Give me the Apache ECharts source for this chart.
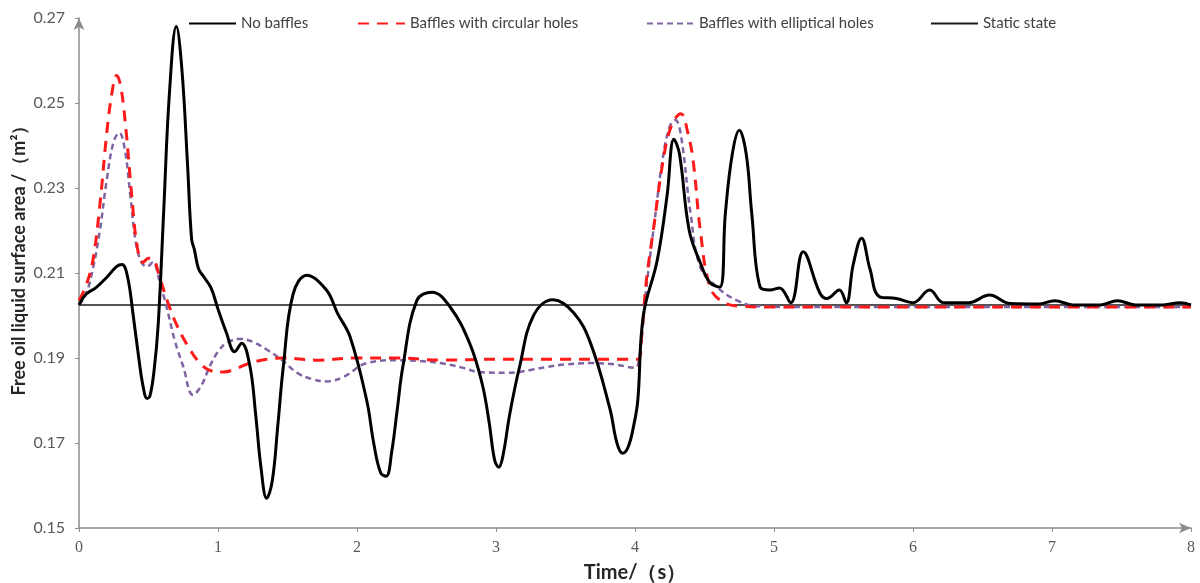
<!DOCTYPE html>
<html>
<head>
<meta charset="utf-8">
<script src="https://cdn.jsdelivr.net/npm/echarts@6/dist/echarts.min.js"></script>
<style>
html, body { margin: 0; padding: 0; background: #fff; }
#chart { width: 1200px; height: 583px; }
</style>
</head>
<body>
<div id="chart"></div>
<script>
var yTicks = [0.15, 0.17, 0.19, 0.21, 0.23, 0.25, 0.27];
var staticLevel = 0.2025;

// No baffles
var tNone = [0, 0.05, 0.12, 0.2, 0.27, 0.31, 0.35, 0.39, 0.43, 0.46, 0.49, 0.51, 0.54, 0.57, 0.61, 0.65, 0.7, 0.74, 0.78, 0.81, 0.83, 0.86, 0.9, 0.95, 1.0, 1.06, 1.12, 1.17, 1.23, 1.27, 1.31, 1.35, 1.39, 1.43, 1.47, 1.54, 1.64, 1.78, 1.86, 1.95, 2.07, 2.12, 2.17, 2.21, 2.25, 2.29, 2.33, 2.43, 2.54, 2.67, 2.81, 2.9, 2.95, 2.99, 3.02, 3.05, 3.1, 3.17, 3.27, 3.41, 3.56, 3.68, 3.82, 3.87, 3.91, 3.95, 3.99, 4.02, 4.06, 4.16, 4.23, 4.28, 4.32, 4.39, 4.47, 4.54, 4.61, 4.65, 4.7, 4.75, 4.8, 4.84, 4.9, 4.97, 5.04, 5.12, 5.21, 5.33, 5.38, 5.47, 5.52, 5.57, 5.63, 5.69, 5.76, 5.88, 6.0, 6.12, 6.22, 6.4, 6.55, 6.7, 6.9, 7.02, 7.15, 7.35, 7.47, 7.6, 7.8, 7.92, 8.0];
var vNone = [0.2025, 0.205, 0.2065, 0.209, 0.2115, 0.212, 0.209, 0.2, 0.19, 0.1835, 0.1805, 0.181, 0.187, 0.198, 0.225, 0.252, 0.268, 0.258, 0.236, 0.218, 0.2155, 0.211, 0.209, 0.2065, 0.2015, 0.196, 0.1915, 0.1935, 0.188, 0.177, 0.164, 0.157, 0.161, 0.174, 0.188, 0.205, 0.2095, 0.206, 0.2005, 0.195, 0.18, 0.17, 0.163, 0.1622, 0.168, 0.178, 0.188, 0.2035, 0.2055, 0.202, 0.1935, 0.184, 0.175, 0.166, 0.1643, 0.167, 0.177, 0.188, 0.2, 0.2037, 0.2006, 0.1935, 0.178, 0.17, 0.1676, 0.169, 0.174, 0.18, 0.2, 0.213, 0.228, 0.2415, 0.238, 0.22, 0.2124, 0.2077, 0.2067, 0.224, 0.238, 0.2436, 0.238, 0.224, 0.2067, 0.206, 0.2065, 0.203, 0.215, 0.2053, 0.204, 0.206, 0.203, 0.212, 0.2182, 0.211, 0.2044, 0.204, 0.203, 0.206, 0.203, 0.203, 0.2048, 0.2028, 0.2027, 0.2035, 0.2025, 0.2025, 0.2035, 0.2025, 0.2025, 0.203, 0.2025];

// Baffles with circular holes
var tCirc = [0, 0.05, 0.1, 0.15, 0.2, 0.24, 0.27, 0.3, 0.34, 0.38, 0.42, 0.46, 0.5, 0.54, 0.58, 0.64, 0.7, 0.78, 0.87, 0.95, 1.04, 1.13, 1.23, 1.35, 1.47, 1.7, 2.0, 2.3, 2.6, 3.0, 3.4, 3.8, 4.02, 4.05, 4.08, 4.14, 4.2, 4.26, 4.33, 4.38, 4.42, 4.47, 4.54, 4.63, 4.75, 5.0, 6.0, 7.0, 8.0];
var vCirc = [0.2035, 0.207, 0.213, 0.226, 0.243, 0.253, 0.2565, 0.254, 0.243, 0.228, 0.216, 0.2125, 0.2135, 0.213, 0.209, 0.203, 0.198, 0.193, 0.1888, 0.187, 0.1867, 0.1875, 0.1888, 0.1897, 0.19, 0.1895, 0.19, 0.19, 0.1895, 0.1897, 0.1897, 0.1897, 0.1897, 0.196, 0.2077, 0.222, 0.236, 0.2445, 0.2475, 0.243, 0.236, 0.22, 0.2067, 0.2032, 0.2022, 0.202, 0.202, 0.202, 0.202];

// Baffles with elliptical holes
var tEllip = [0, 0.05, 0.1, 0.15, 0.2, 0.25, 0.29, 0.33, 0.37, 0.41, 0.45, 0.49, 0.53, 0.58, 0.63, 0.69, 0.75, 0.82, 0.88, 0.94, 1.0, 1.06, 1.16, 1.25, 1.35, 1.46, 1.57, 1.68, 1.78, 1.9, 2.07, 2.29, 2.45, 2.6, 2.75, 2.88, 3.08, 3.25, 3.37, 3.5, 3.68, 3.85, 4.0, 4.03, 4.08, 4.14, 4.2, 4.25, 4.29, 4.33, 4.4, 4.47, 4.59, 4.73, 4.88, 5.2, 6.0, 7.0, 8.0];
var vEllip = [0.2025, 0.205, 0.211, 0.22, 0.232, 0.241, 0.243, 0.239, 0.228, 0.217, 0.2125, 0.2115, 0.2125, 0.208, 0.202, 0.194, 0.188, 0.1813, 0.1835, 0.188, 0.1915, 0.1935, 0.1945, 0.1938, 0.192, 0.1895, 0.1865, 0.185, 0.1845, 0.1855, 0.1888, 0.1895, 0.1893, 0.1888, 0.1878, 0.1867, 0.1865, 0.1872, 0.1879, 0.1885, 0.1888, 0.1885, 0.1877, 0.19, 0.206, 0.222, 0.237, 0.2445, 0.246, 0.2425, 0.224, 0.2114, 0.2067, 0.2036, 0.2022, 0.202, 0.202, 0.202, 0.202];

var tStatic = [0, 8];
var vStatic = [staticLevel, staticLevel];

function pairs(ts, vs) {
	var out = [];
	for (var i = 0; i < ts.length; i++) out.push([ts[i], vs[i]]);
	return out;
}

var axisGray = '#8c8c8c';
var labelGray = '#595959';
var fontSans = 'Lato, "Liberation Sans", sans-serif';

function legendAt(name, left) {
	return {
		data: [name],
		left: left,
		top: 11,
		itemWidth: 47,
		itemHeight: 14,
		itemGap: 0,
		itemStyle: { color: 'rgba(0,0,0,0)', borderWidth: 0, opacity: 0 },
		textStyle: { fontFamily: fontSans, fontSize: 15, color: '#404040' }
	};
}

var chart = echarts.init(document.getElementById('chart'));

var option = {
	animation: false,
	backgroundColor: '#fff',
	grid: { left: 79, right: 9, top: 18, bottom: 55, outerBoundsMode: 'none' },
	legend: [
		legendAt('No baffles', 183),
		legendAt('Baffles with circular holes', 352),
		legendAt('Baffles with elliptical holes', 641),
		legendAt('Static state', 925)
	],
	xAxis: {
		type: 'value',
		min: 0,
		max: 8,
		interval: 1,
		name: 'Time/（s）',
		nameLocation: 'middle',
		nameGap: 35,
		nameTextStyle: { fontFamily: fontSans, fontSize: 20, fontWeight: 'bold', color: '#262626' },
		axisLine: { lineStyle: { color: axisGray, width: 1.5 }, symbol: ['none', 'arrow'], symbolSize: [8, 12] },
		axisTick: { length: 4, lineStyle: { color: axisGray } },
		axisLabel: { margin: 12, fontFamily: '"Liberation Serif", serif', fontSize: 16, color: labelGray },
		splitLine: { show: false }
	},
	yAxis: {
		type: 'value',
		min: 0.15,
		max: 0.27,
		axisLine: { show: true, lineStyle: { color: axisGray, width: 1.5 }, symbol: ['none', 'arrow'], symbolSize: [8, 12] },
		axisTick: { show: true, length: 4, lineStyle: { color: axisGray }, customValues: yTicks },
		axisLabel: {
			margin: 14,
			fontFamily: fontSans,
			fontSize: 16,
			color: labelGray,
			customValues: yTicks,
			formatter: function (v) { return v.toFixed(2); }
		},
		splitLine: { show: false }
	},
	graphic: [{
		type: 'text',
		x: 19,
		y: 256,
		rotation: Math.PI / 2,
		style: {
			text: 'Free oil liquid surface area /（m²）',
			fontFamily: fontSans,
			fontSize: 18,
			fontWeight: 'bold',
			fill: '#262626',
			align: 'center',
			verticalAlign: 'middle'
		}
	}],
	series: [
		{
			name: 'Static state',
			type: 'line',
			data: pairs(tStatic, vStatic),
			symbol: 'none',
			lineStyle: { color: '#1a1a1a', width: 1.5 },
			itemStyle: { color: '#1a1a1a' },
			z: 1
		},
		{
			name: 'Baffles with elliptical holes',
			type: 'line',
			data: pairs(tEllip, vEllip),
			smooth: 0.4,
			symbol: 'none',
			lineStyle: { color: '#8064a2', width: 2.5, type: [6, 4] },
			itemStyle: { color: '#8064a2' },
			z: 2
		},
		{
			name: 'Baffles with circular holes',
			type: 'line',
			data: pairs(tCirc, vCirc),
			smooth: 0.4,
			symbol: 'none',
			lineStyle: { color: '#ff1a1a', width: 3, type: [11, 8] },
			itemStyle: { color: '#ff1a1a' },
			z: 3
		},
		{
			name: 'No baffles',
			type: 'line',
			data: pairs(tNone, vNone),
			smooth: 0.4,
			symbol: 'none',
			lineStyle: { color: '#000', width: 3 },
			itemStyle: { color: '#000' },
			z: 4
		}
	]
};

chart.setOption(option);
</script>
</body>
</html>
